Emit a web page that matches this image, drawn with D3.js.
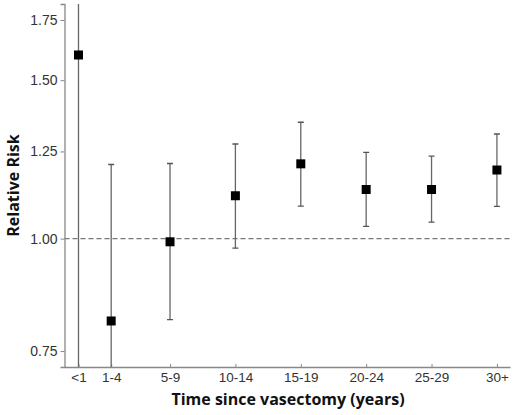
<!DOCTYPE html>
<html>
<head>
<meta charset="utf-8">
<script src="https://cdn.jsdelivr.net/npm/d3@7"></script>
<style>
  body { margin: 0; background: #fff; }
  svg { display: block; font-family: "Open Sans", Lato, sans-serif; }
</style>
</head>
<body>
<svg id="chart"></svg>
<script>
const w = 518;
const h = 415;

// groups and where they sit on the time axis (years)
const groups = ["<1", "1-4", "5-9", "10-14", "15-19", "20-24", "25-29", "30+"];
const groupYears = [0, 2.5, 7, 12, 17, 22, 27, 32];
// relative risk with 95% CI
const rr = [1.60, 0.81, 0.992, 1.116, 1.211, 1.134, 1.134, 1.192];
const lower = [0.50, 0.55, 0.813, 0.976, 1.087, 1.032, 1.043, 1.086];
const upper = [5.00, 1.209, 1.212, 1.274, 1.347, 1.247, 1.235, 1.307];
const yTicks = [0.75, 1.00, 1.25, 1.50, 1.75];

const margin = { top: 4, right: 8, bottom: 48, left: 64.5 };

const svg = d3.select("#chart").attr("width", w).attr("height", h);

const x = d3.scaleLinear()
  .domain([-1.07, 33.0])
  .range([margin.left, w - margin.right]);

const y = d3.scaleLog()
  .domain([0.72, 1.823])
  .range([h - margin.bottom, margin.top]);

// clip so the wide intervals stop at the axes
svg.append("defs").append("clipPath")
  .attr("id", "plot-clip")
  .append("rect")
  .attr("x", margin.left)
  .attr("y", margin.top)
  .attr("width", w - margin.right - margin.left)
  .attr("height", h - margin.bottom - margin.top);

// reference line at 1
svg.append("line")
  .attr("x1", margin.left)
  .attr("x2", w - margin.right)
  .attr("y1", y(1))
  .attr("y2", y(1))
  .attr("stroke", "#777")
  .attr("stroke-width", 1.2)
  .attr("stroke-dasharray", "5,3");

// y axis
const yAxis = svg.append("g")
  .attr("transform", `translate(${margin.left},0)`)
  .call(d3.axisLeft(y).tickValues(yTicks).tickFormat(d3.format(".2f")).tickSize(4).tickPadding(3));
yAxis.select(".domain").attr("stroke", "#888").attr("stroke-width", 1.3);
yAxis.selectAll(".tick line").attr("stroke", "#888");
yAxis.selectAll("text").attr("fill", "#333").style("font-size", "14px");

// x axis, short ticks pointing up into the plot
const xAxis = svg.append("g")
  .attr("transform", `translate(0,${h - margin.bottom})`)
  .call(d3.axisBottom(x).tickValues(groupYears).tickFormat((d, i) => groups[i]).tickSizeInner(-3).tickSizeOuter(0).tickPadding(5));
xAxis.select(".domain").attr("stroke", "#888").attr("stroke-width", 1.3);
xAxis.selectAll(".tick line").attr("stroke", "#888");
xAxis.selectAll("text").attr("fill", "#333").style("font-size", "13.5px");

// error bars
const bars = svg.append("g").attr("clip-path", "url(#plot-clip)")
  .selectAll("g")
  .data(groups)
  .enter()
  .append("g");

bars.append("line")
  .attr("x1", (d, i) => x(groupYears[i]))
  .attr("x2", (d, i) => x(groupYears[i]))
  .attr("y1", (d, i) => y(lower[i]))
  .attr("y2", (d, i) => y(upper[i]))
  .attr("stroke", "#666")
  .attr("stroke-width", 1.3);

[lower, upper].forEach(arr => {
  bars.append("line")
    .attr("x1", (d, i) => x(groupYears[i]) - 3)
    .attr("x2", (d, i) => x(groupYears[i]) + 3)
    .attr("y1", (d, i) => y(arr[i]))
    .attr("y2", (d, i) => y(arr[i]))
    .attr("stroke", "#555")
    .attr("stroke-width", 1.3);
});

// point estimates
svg.append("g")
  .selectAll("rect")
  .data(groups)
  .enter()
  .append("rect")
  .attr("x", (d, i) => x(groupYears[i]) - 4.5)
  .attr("y", (d, i) => y(rr[i]) - 4.5)
  .attr("width", 9)
  .attr("height", 9)
  .attr("fill", "#000");

// axis titles
svg.append("text")
  .attr("x", 288)
  .attr("y", h - 10)
  .attr("text-anchor", "middle")
  .style("font-size", "16px")
  .style("font-weight", "bold")
  .attr("fill", "#111")
  .text("Time since vasectomy (years)");

svg.append("text")
  .attr("transform", `translate(19,${(margin.top + h - margin.bottom) / 2}) rotate(-90)`)
  .attr("text-anchor", "middle")
  .style("font-size", "16px")
  .style("font-weight", "bold")
  .attr("fill", "#111")
  .text("Relative Risk");
</script>
</body>
</html>
